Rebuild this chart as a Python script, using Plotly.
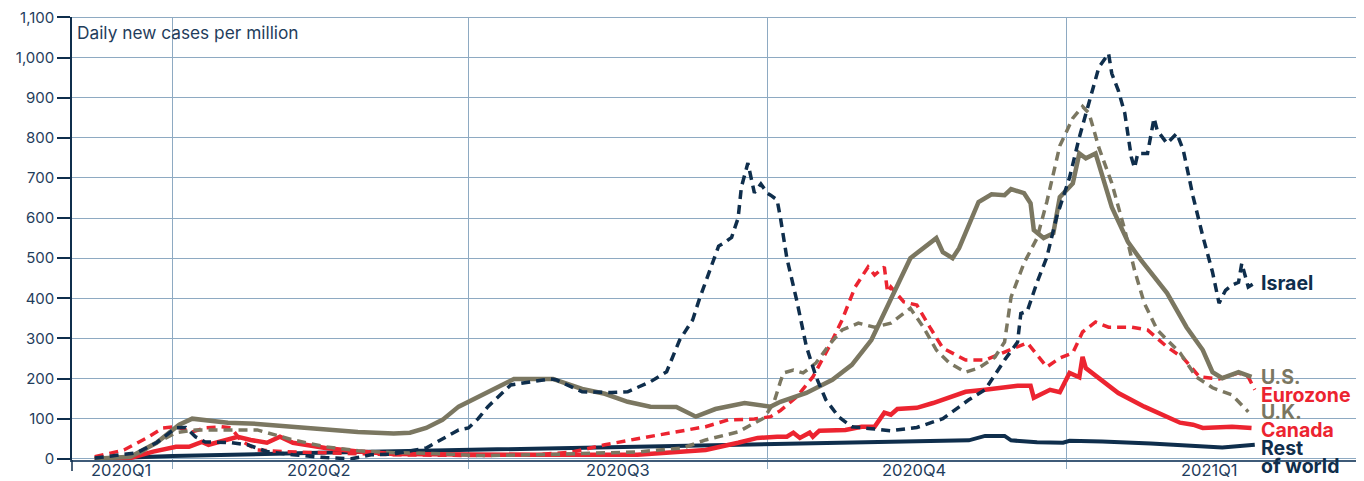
import plotly.graph_objects as go

# ---------------- data ----------------
israel_dates = ["2020-03-08", "2020-03-21", "2020-03-27", "2020-04-02", "2020-04-05", "2020-04-08",
                "2020-04-11", "2020-04-19", "2020-04-24", "2020-04-30", "2020-05-08", "2020-05-18",
                "2020-05-26", "2020-06-01", "2020-06-08", "2020-06-18", "2020-06-28", "2020-07-01",
                "2020-07-04", "2020-07-07", "2020-07-14", "2020-07-20", "2020-07-26", "2020-07-28",
                "2020-08-05", "2020-08-14", "2020-08-19", "2020-08-26", "2020-08-31", "2020-09-04",
                "2020-09-08", "2020-09-10", "2020-09-16", "2020-09-18", "2020-09-20", "2020-09-22",
                "2020-09-23", "2020-09-25", "2020-09-27", "2020-09-29", "2020-10-01", "2020-10-02",
                "2020-10-04", "2020-10-05", "2020-10-07", "2020-10-10", "2020-10-13", "2020-10-16",
                "2020-10-19", "2020-10-23", "2020-10-27", "2020-11-02", "2020-11-08", "2020-11-16",
                "2020-11-24", "2020-12-02", "2020-12-07", "2020-12-13", "2020-12-17", "2020-12-18",
                "2020-12-20", "2020-12-23", "2020-12-26", "2020-12-29", "2021-01-02", "2021-01-05",
                "2021-01-08", "2021-01-11", "2021-01-14", "2021-01-15", "2021-01-17", "2021-01-19",
                "2021-01-21", "2021-01-22", "2021-01-23", "2021-01-26", "2021-01-28", "2021-01-29",
                "2021-02-01", "2021-02-04", "2021-02-06", "2021-02-09", "2021-02-12", "2021-02-15",
                "2021-02-17", "2021-02-19", "2021-02-21", "2021-02-23", "2021-02-24", "2021-02-26",
                "2021-02-28"]
israel_vals = [2, 15, 40, 77, 78, 55,
               42, 40, 35, 18, 10, 3,
               0, 10, 12, 27, 72, 77,
               100, 130, 184, 192, 199, 197,
               167, 165, 167, 192, 217, 296,
               346, 396, 530, 540, 552, 600,
               677, 737, 663, 685, 662, 657,
               645, 602, 500, 396, 280, 204,
               147, 104, 80, 75, 70, 78,
               100, 147, 172, 246, 291, 362,
               368, 440, 502, 602, 701, 801,
               886, 975, 1010, 960, 918, 861,
               752, 725, 761, 761, 849, 818,
               786, 811, 769, 654, 555, 465,
               388, 420, 433, 440, 487, 428,
               438]

us_dates = ["2020-03-08", "2020-03-19", "2020-03-27", "2020-03-31", "2020-04-03", "2020-04-07",
            "2020-04-12", "2020-04-18", "2020-04-27", "2020-05-08", "2020-05-18", "2020-05-28",
            "2020-06-08", "2020-06-13", "2020-06-18", "2020-06-23", "2020-06-28", "2020-07-01",
            "2020-07-04", "2020-07-07", "2020-07-15", "2020-07-27", "2020-08-05", "2020-08-12",
            "2020-08-19", "2020-08-26", "2020-09-03", "2020-09-09", "2020-09-15", "2020-09-24",
            "2020-10-02", "2020-10-05", "2020-10-13", "2020-10-21", "2020-10-27", "2020-11-02",
            "2020-11-08", "2020-11-14", "2020-11-22", "2020-11-24", "2020-11-27", "2020-11-29",
            "2020-12-05", "2020-12-09", "2020-12-13", "2020-12-15", "2020-12-19", "2020-12-21",
            "2020-12-22", "2020-12-25", "2020-12-28", "2020-12-30", "2021-01-03", "2021-01-05",
            "2021-01-07", "2021-01-10", "2021-01-15", "2021-01-20", "2021-01-24", "2021-02-01",
            "2021-02-07", "2021-02-12", "2021-02-15", "2021-02-18", "2021-02-23", "2021-02-27"]
us_vals = [0, 5, 40, 65, 85, 100,
           95, 90, 87, 80, 72, 67,
           63, 65, 77, 97, 130, 142,
           155, 164, 199, 199, 174, 162,
           142, 130, 129, 105, 124, 139,
           130, 142, 164, 197, 234, 296,
           396, 500, 550, 515, 500, 525,
           640, 659, 657, 672, 662, 637,
           570, 550, 562, 652, 686, 761,
           749, 761, 627, 540, 495, 413,
           328, 271, 216, 201, 216, 204]

uk_dates = ["2020-03-08", "2020-03-21", "2020-03-27", "2020-04-02", "2020-04-08", "2020-04-17",
            "2020-04-27", "2020-04-30", "2020-05-08", "2020-05-18", "2020-05-28", "2020-06-08",
            "2020-06-18", "2020-07-04", "2020-07-22", "2020-08-22", "2020-09-05", "2020-09-12",
            "2020-09-22", "2020-09-30", "2020-10-03", "2020-10-05", "2020-10-06", "2020-10-09",
            "2020-10-12", "2020-10-16", "2020-10-20", "2020-10-24", "2020-10-29", "2020-11-03",
            "2020-11-08", "2020-11-14", "2020-11-18", "2020-11-22", "2020-11-26", "2020-12-01",
            "2020-12-05", "2020-12-10", "2020-12-13", "2020-12-15", "2020-12-19", "2020-12-23",
            "2020-12-26", "2020-12-30", "2021-01-03", "2021-01-06", "2021-01-08", "2021-01-11",
            "2021-01-15", "2021-01-19", "2021-01-22", "2021-01-25", "2021-01-29", "2021-02-05",
            "2021-02-10", "2021-02-15", "2021-02-21", "2021-02-26"]
uk_vals = [0, 10, 40, 65, 72, 72,
           72, 65, 47, 30, 20, 15,
           14, 8, 10, 17, 27, 47,
           67, 102, 140, 192, 214, 221,
           214, 239, 284, 321, 338, 328,
           338, 375, 328, 271, 239, 216,
           226, 253, 291, 403, 488, 550,
           640, 780, 849, 878, 861, 776,
           687, 570, 470, 388, 321, 264,
           204, 177, 159, 117]

eurozone_dates = ["2020-03-08", "2020-03-17", "2020-03-24", "2020-03-29", "2020-04-02", "2020-04-07",
                  "2020-04-11", "2020-04-16", "2020-04-19", "2020-04-22", "2020-04-27", "2020-05-05",
                  "2020-05-18", "2020-05-28", "2020-06-08", "2020-07-04", "2020-07-22", "2020-08-02",
                  "2020-08-12", "2020-08-22", "2020-09-02", "2020-09-12", "2020-09-19", "2020-09-27",
                  "2020-10-02", "2020-10-05", "2020-10-10", "2020-10-15", "2020-10-20", "2020-10-24",
                  "2020-10-28", "2020-11-01", "2020-11-03", "2020-11-06", "2020-11-07", "2020-11-08",
                  "2020-11-12", "2020-11-16", "2020-11-20", "2020-11-24", "2020-12-01", "2020-12-07",
                  "2020-12-13", "2020-12-20", "2020-12-26", "2020-12-30", "2021-01-03", "2021-01-06",
                  "2021-01-10", "2021-01-14", "2021-01-21", "2021-01-26", "2021-02-01", "2021-02-06",
                  "2021-02-11", "2021-02-17", "2021-02-23", "2021-02-26", "2021-02-28"]
eurozone_vals = [5, 22, 52, 77, 80, 67,
                 77, 80, 77, 45, 22, 18,
                 15, 12, 10, 8, 10, 17,
                 35, 50, 65, 80, 97, 99,
                 105, 120, 154, 204, 279, 346,
                 428, 478, 458, 478, 415, 428,
                 391, 383, 328, 276, 246, 246,
                 266, 289, 229, 251, 264, 316,
                 341, 328, 328, 321, 279, 251,
                 204, 199, 214, 204, 172]

canada_dates = ["2020-03-08", "2020-03-19", "2020-03-26", "2020-04-02", "2020-04-06", "2020-04-10",
                "2020-04-12", "2020-04-15", "2020-04-21", "2020-04-25", "2020-04-30", "2020-05-04",
                "2020-05-08", "2020-05-18", "2020-05-28", "2020-06-08", "2020-07-04", "2020-07-22",
                "2020-08-22", "2020-09-12", "2020-09-22", "2020-09-28", "2020-10-04", "2020-10-07",
                "2020-10-09", "2020-10-11", "2020-10-14", "2020-10-15", "2020-10-17", "2020-10-25",
                "2020-10-30", "2020-11-03", "2020-11-06", "2020-11-08", "2020-11-10", "2020-11-16",
                "2020-11-21", "2020-11-26", "2020-12-01", "2020-12-07", "2020-12-14", "2020-12-17",
                "2020-12-21", "2020-12-22", "2020-12-27", "2020-12-30", "2021-01-02", "2021-01-05",
                "2021-01-06", "2021-01-07", "2021-01-17", "2021-01-25", "2021-02-05", "2021-02-09",
                "2021-02-12", "2021-02-21", "2021-02-27"]
canada_vals = [0, 2, 18, 30, 30, 42,
               35, 42, 55, 47, 40, 55,
               40, 27, 18, 12, 10, 10,
               10, 22, 40, 52, 55, 55,
               65, 52, 65, 55, 70, 72,
               80, 80, 115, 110, 124, 127,
               139, 154, 167, 172, 179, 182,
               182, 152, 172, 166, 214, 203,
               254, 226, 164, 130, 90, 85,
               77, 80, 77]

row_dates = ["2020-03-08", "2020-04-01", "2020-05-16", "2020-07-01", "2020-08-16", "2020-10-01",
             "2020-11-10", "2020-12-02", "2020-12-07", "2020-12-13", "2020-12-15", "2020-12-23",
             "2020-12-31", "2021-01-02", "2021-01-12", "2021-01-27", "2021-02-18", "2021-02-28"]
row_vals = [0, 7, 15, 22, 30, 38,
            43, 46, 57, 57, 46, 41,
            40, 45, 43, 38, 28, 35]

quarter_starts = ["2020-04-01", "2020-07-01", "2020-10-01", "2021-01-01", "2021-04-01"]
quarter_label_pos = ["2020-03-16", "2020-05-16", "2020-08-16", "2020-11-15", "2021-02-14"]
quarter_labels = ["2020Q1", "2020Q2", "2020Q3", "2020Q4", "2021Q1"]
y_ticks = list(range(0, 1101, 100))
y_ticktext = [f"{v:,}" for v in y_ticks]

# ---------------- style ----------------
NAVY = "#0f2e4c"
OLIVE = "#7b7761"
RED = "#ec2430"
GRID = "#8eaac2"
TXT = "#1f3d5c"
FONT = "Inter"
DASH = "9px,6px"
Y0, Y1 = -3, 1101

fig = go.Figure()


def add(x, y, color, width, dash=None):
    fig.add_trace(go.Scatter(x=x, y=y, mode="lines",
                             line=dict(color=color, width=width, dash=dash or "solid"),
                             hoverinfo="skip", showlegend=False))


add(row_dates, row_vals, NAVY, 4)
add(canada_dates, canada_vals, RED, 4.5)
add(eurozone_dates, eurozone_vals, RED, 3.5, DASH)
add(uk_dates, uk_vals, OLIVE, 3.5, DASH)
add(us_dates, us_vals, OLIVE, 4.5)
add(israel_dates, israel_vals, NAVY, 3.5, DASH)

# series labels at the right (positions in data units, converted to paper)
labels = [("Israel", 438, NAVY), ("U.S.", 204, OLIVE), ("Eurozone", 160, RED),
          ("U.K.", 117, OLIVE), ("Canada", 73, RED), ("Rest", 28, NAVY), ("of world", -17, NAVY)]
for txt, yv, col in labels:
    fig.add_annotation(x=0.9205, xref="paper", y=(yv - Y0) / (Y1 - Y0), yref="paper", text=txt,
                       showarrow=False, xanchor="left", yanchor="middle", align="left",
                       font=dict(family=FONT, size=19.5, color=col, weight="bold"))

# quarter labels under the axis
for pos, txt in zip(quarter_label_pos, quarter_labels):
    fig.add_annotation(x=pos, xref="x", y=-0.0235, yref="paper", text=txt, showarrow=False,
                       xanchor="center", yanchor="middle",
                       font=dict(family=FONT, size=16.5, color=TXT))

fig.add_annotation(x=0.002, xref="paper", y=1.0, yref="paper", yshift=-3, text="Daily new cases per million",
                   showarrow=False, xanchor="left", yanchor="top",
                   font=dict(family=FONT, size=17.3, color=TXT))

# left axis extension below zero
fig.add_shape(type="line", xref="paper", yref="paper", x0=0, x1=0, y0=0, y1=-0.025,
              line=dict(color=NAVY, width=1.5))
# top gridline at the axis maximum
fig.add_shape(type="line", xref="paper", yref="y", x0=0, x1=1, y0=y_ticks[-1], y1=y_ticks[-1],
              line=dict(color=GRID, width=1.2), layer="below")

# page body has an 8px default margin: shrink the figure and margins to compensate
fig.update_layout(
    width=1356, height=473,
    margin=dict(l=64, r=2, t=9, b=21),
    paper_bgcolor="white", plot_bgcolor="white",
    font=dict(family=FONT, color=TXT, size=16),
    showlegend=False,
    xaxis=dict(
        type="date", range=["2020-03-01", "2021-04-02"], automargin=False,
        showticklabels=False, ticks="", showgrid=False, zeroline=False,
        showline=True, linecolor="#3f5b78", linewidth=1.5,
        minor=dict(tickmode="array", tickvals=quarter_starts, showgrid=True, gridcolor=GRID,
                   gridwidth=1.2, ticks="outside", ticklen=7, tickcolor=GRID, tickwidth=1.2),
    ),
    yaxis=dict(
        range=[Y0, Y1], automargin=False, ticklabeloverflow="allow",
        tickmode="array", tickvals=y_ticks, ticktext=y_ticktext,
        ticks="outside", ticklen=13, tickcolor=NAVY, tickwidth=1.5,
        showgrid=True, gridcolor=GRID, gridwidth=1.2, zeroline=False,
        showline=True, linecolor=NAVY, linewidth=1.5,
        tickfont=dict(family=FONT, size=15, color=TXT),
    ),
)

fig.write_html("out.html")
